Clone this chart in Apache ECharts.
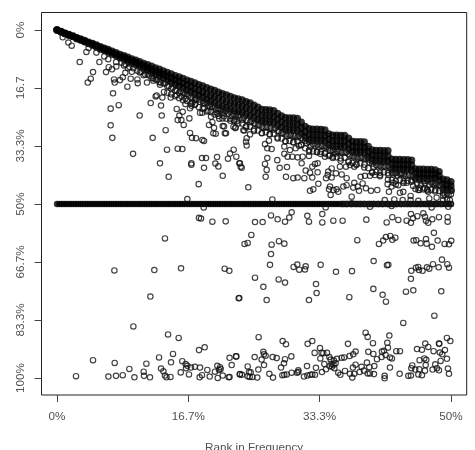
<!DOCTYPE html>
<html>
<head>
<meta charset="utf-8">
<style>html,body{margin:0;padding:0;background:#fff}#chart{width:475px;height:450px}</style>
<script src="https://cdn.jsdelivr.net/npm/echarts@6/dist/echarts.min.js"></script>
</head>
<body>
<div id="chart"></div>
<script>
// Tick positions and their printed labels (both axes run 0-100% of the full range in sixths).
const xTicks = [0, 16.667, 33.333, 50];
const xTickLabels = ['0%', '16.7%', '33.3%', '50%'];
const yTicks = [0, 16.667, 33.333, 50, 66.667, 83.333, 100];
const yTickLabels = ['0%', '16.7', '33.3%', '50%', '66.7%', '83.3%', '100%'];

// The dense ridge, one column per half percent of rank: upper, middle and lower edge.
const ridgeRank = [0,0.5,1,1.5,2,2.5,3,3.5,4,4.5,5,5.5,6,6.5,7,7.5,8,8.5,9,9.5,10,10.5,11,11.5,12,12.5,13,13.5,14,14.5,15,15.5,16,16.5,17,17.5,18,18.5,19,19.5,20,20.5,21,21.5,22,22.5,23,23.5,24,24.5,25,25.5,26,26.5,27,27.5,28,28.5,29,29.5,30,30.5,31,31.5,32,32.5,33,33.5,34,34.5,35,35.5,36,36.5,37,37.5,38,38.5,39,39.5,40,40.5,41,41.5,42,42.5,43,43.5,44,44.5,45,45.5,46,46.5,47,47.5,48,48.5,49,49.5,50];
const ridgeUpper = [0,0.4,0.9,1.3,1.7,2.2,2.6,3,3.5,3.9,4.3,4.8,5.2,5.6,6.1,6.5,7,7.4,7.8,8.3,8.7,9.1,9.6,10,10.4,10.9,11.3,11.8,12.2,12.6,13.1,13.5,13.9,14.4,14.8,15.2,15.7,16.1,16.6,17,17.4,17.9,18.3,18.7,19.1,19.5,19.8,20.1,20.6,21,21.6,22.2,22.8,22.9,23,23.2,24,24.7,25.2,25.3,25.3,25.4,26.5,27.7,28.4,28.5,28.5,28.6,28.7,29.9,30.2,30.2,30.3,30.3,31.1,32,32.1,32.1,32.2,33.5,34.5,34.6,34.6,34.7,34.7,37.1,37.2,37.2,37.3,37.3,37.4,39.9,40,40,40.1,40.1,40.2,40.7,42.9,43.1,43.6];
const ridgeMiddle = [0,0.5,1,1.4,1.8,2.3,2.8,3.2,3.7,4.1,4.6,5.1,5.5,6,6.5,7,7.5,7.9,8.4,8.9,9.3,9.8,10.3,10.8,11.3,11.8,12.3,12.8,13.3,13.8,14.3,14.8,15.3,15.8,16.3,16.8,17.3,17.8,18.3,18.8,19.2,19.7,20.1,20.6,21,21.3,21.6,21.9,22.4,22.8,23.4,24,24.5,24.6,24.7,24.9,25.7,26.4,26.9,27,27,27.1,28.1,29.3,30,30.1,30.1,30.2,30.3,31.5,31.8,31.8,31.9,31.9,32.7,33.5,33.6,33.6,33.7,35,36,36.1,36.1,36.2,36.2,38.5,38.6,38.6,38.7,38.7,38.8,41.2,41.3,41.3,41.4,41.4,41.4,41.9,44.3,44.5,44.8];
const ridgeLower = [0,0.5,1,1.5,1.9,2.5,2.9,3.4,3.9,4.4,4.9,5.5,5.9,6.4,7,7.4,8,8.5,9,9.5,10,10.5,11.1,11.6,12.2,12.8,13.3,13.9,14.4,15,15.6,16.1,16.6,17.3,17.8,18.3,18.9,19.4,20,20.5,21,21.6,22,22.4,22.8,23.2,23.4,23.7,24.2,24.6,25.2,25.8,26.2,26.3,26.4,26.6,27.4,28.1,28.6,28.7,28.7,28.8,29.7,30.9,31.6,31.7,31.7,31.8,31.9,33.1,33.4,33.4,33.5,33.5,34.3,35,35.1,35.1,35.2,36.5,37.5,37.6,37.6,37.7,37.7,39.9,40,40,40.1,40.1,40.2,42.5,42.6,42.6,42.7,42.7,42.6,43.1,45.7,45.9,46];

// Two mottled rows of open circles packed directly under the solid ridge.
const skirtNear = [[8.2,9.4],[8.7,9.9],[9.2,10.6],[9.7,11],[10.2,11.7],[10.7,12],[11.2,12.8],[11.7,13.1],[12.2,13.9],[12.7,14.3],[13.2,15.1],[13.7,15.4],[14.2,16.1],[14.7,16.6],[15.2,17.3],[15.7,17.6],[16.2,18.4],[16.7,18.9],[17.2,19.6],[17.7,19.9],[18.2,20.7],[18.7,21],[19.2,21.8],[19.7,22.1],[20.2,22.8],[20.7,23.2],[21.2,23.8],[21.7,24],[22.2,24.6],[22.7,24.8],[23.2,25.2],[23.7,25.3],[24.2,26],[24.7,26.2],[25.2,27],[25.7,27.4],[26.2,28],[26.7,27.9],[27.2,28.2],[27.7,28.2],[28.2,29.2],[28.7,29.7],[29.2,30.4],[29.7,30.3],[30.2,30.5],[30.7,30.4],[31.2,31.5],[31.7,32.5],[32.2,33.4],[32.7,33.3],[33.2,33.5],[33.7,33.4],[34.2,33.7],[34.7,34.7],[35.2,35.2],[35.7,35],[36.2,35.3],[36.7,35.1],[37.2,36.1],[37.7,36.6],[38.2,36.9],[38.7,36.7],[39.2,37],[39.7,38.1],[40.2,39.3],[40.7,39.2],[41.2,39.4],[41.7,39.3],[42.2,39.5],[42.7,41.5],[43.2,41.8],[43.7,41.6],[44.2,41.9],[44.7,41.7],[45.2,42],[45.7,44.1],[46.2,44.4],[46.7,44.2],[47.2,44.5],[47.7,44.3],[48.2,44.4],[48.7,44.7],[49.2,47.3],[49.7,47.5]];
const skirtFar = [[14,18],[14.5,18.5],[15,19],[15.5,19.6],[16,20.2],[16.5,20.4],[17,21.2],[17.5,21.5],[18,22.2],[18.5,22.6],[19,23.4],[19.5,23.6],[20,24.3],[20.5,24.7],[21,25.4],[21.5,25.5],[22,26.1],[22.5,26.2],[23,26.9],[23.5,26.9],[24,27.7],[24.5,27.8],[25,28.6],[25.5,28.9],[26,29.7],[26.5,29.4],[27,29.9],[27.5,29.8],[28,30.9],[28.5,31.2],[29,32],[29.5,31.9],[30,32.2],[30.5,32],[31,33.1],[31.5,34],[32,35],[32.5,34.9],[33,35.1],[33.5,35],[34,35.4],[34.5,36.2],[35,36.8],[35.5,36.6],[36,36.9],[36.5,36.7],[37,37.7],[37.5,38.2],[38,38.5],[38.5,38.3],[39,38.7],[39.5,39.7],[40,40.9],[40.5,40.8],[41,41],[41.5,40.9],[42,41.1],[42.5,43.1],[43,43.4],[43.5,43.2],[44,43.5],[44.5,43.3],[45,43.6],[45.5,45.7],[46,46],[46.5,45.8],[47,46.1],[47.5,45.9],[48,46],[48.5,46.3],[49,48.9],[49.5,48.6]];

// Ranks sitting on the even 50% line: packed solid at first, looser towards the high ranks.
const evenRankPacked = [0,0.3,0.6,0.9,1.2,1.5,1.8,2.1,2.4,2.7,3,3.3,3.6,3.9,4.2,4.5,4.8,5.1,5.4,5.7,6,6.3,6.6,6.9,7.2,7.5,7.8,8.1,8.4,8.7,9,9.3,9.6,9.9,10.2,10.5,10.8,11.1,11.4,11.7,12,12.3,12.6,12.9,13.2,13.5,13.8,14.1,14.4,14.7,15,15.3,15.6,15.9,16.2,16.5,16.8,17.1,17.4,17.7,18,18.3,18.6,18.9,19.2,19.5,19.8,20.1,20.4,20.7,21,21.3,21.6,21.9,22.2,22.5,22.8,23.1,23.4,23.7,24,24.3,24.6,24.9,25.2,25.5,25.8,26.1,26.4,26.7,27,27.3,27.6,27.9,28.2,28.5,28.8,29.1,29.4,29.7,30,30.3,30.6,30.9,31.2,31.5,31.8,32.1,32.4,32.7,33,33.3,33.6,33.9,34.2,34.5,34.8,35.1,35.4,35.7,36];
const evenRankSpaced = [36.3,36.8,37.4,38,38.5,39,39.7,40.2,40.8,41.3,42,42.6,43.1,43.7,44.4,44.9,45.6,46.2,46.8,47.4,48.1,48.7,49.3,49.8];
const evenRankLoose = [36.2,36.5,36.7,36.9,37.2,37.4,37.7,37.9,38.2,38.4,38.6,38.9,39.1,39.4,39.6,39.9,40.1,40.3,40.6,40.8,41.1,41.3,41.5,41.8,42,42.3,42.5,42.8,43,43.2,43.5,43.7,44,44.2,44.5,44.7,44.9,45.2,45.4,45.7,45.9,46.1,46.4,46.6,46.9,47.1,47.3,47.6,47.8,48.1,48.3,48.6,48.8,49,49.3,49.5,49.8,50];
const evenShare = 50;

// Open circles hugging the underside of the ridge.
const ridgeFringe = [[4,5.2],[5,6.5],[6,7.6],[6.5,8.4],[7.5,9.2],[8.5,10.2],[9,11],[9.5,12],[10.5,12.2],[11,13],[11.5,12.8],[12,13.8],[12.5,14.2],[13,15],[13.5,15.3],[14,16.2],[14.5,16.8],[15,17.4],[15.5,18],[16,18],[16.5,18.4],[17,19.4],[17.5,19.8],[18,20],[18.5,20.4],[19,21],[19.5,21.3],[20,22],[20.5,22.6],[21,23],[21.5,23.2],[22,23.6],[22.5,24.2],[23,24.6],[16.3,19.7],[17.2,20.8],[18.7,22.4],[19.2,23.2],[20.4,24],[21.2,24.8],[22,25.5],[22.8,26.2],[23.5,25.8],[24,26],[24.5,26.5],[25,26.8],[25.5,27.2],[26,27.8],[26.5,28],[27,28.2],[27.5,28.6],[28,29],[28.5,29.6],[29,30],[29.5,30.2],[30,30.4],[30.5,30.8],[31,31],[31.5,31.8],[32,32.2],[32.5,32.8],[33,33],[33.5,33.2],[34,33.4],[34.5,34],[35,34.6],[35.5,34.8],[36,35],[36.5,35.2],[37,35.6],[37.5,36.2],[38,36.6],[38.5,36.8],[39,37],[39.5,37.2],[40,38.4],[40.5,38.8],[41,39],[41.5,39.2],[42,39],[42.5,41],[43,41],[43.5,41.3],[44,41.5],[44.5,41.8],[45,42],[45.5,43],[46,43.2],[46.5,43.5],[47,43.4],[47.5,43.8],[48,44],[48.5,44.6],[49,46.8],[49.5,47],[50,47.2],[45.2,44.8],[46,45.4],[47,45.8],[48,46.4],[49,47.6],[44,44],[43,44.4],[42,43],[41,42],[40,41],[39,39.5],[38,38.8],[37,38],[36,37.6],[35,36.4],[34,35.5],[33,35],[32,34.5],[31,33],[30,32.3],[29,32],[28,31.2],[27,30],[26,29.6],[25,29],[24,28]];

// Scattered circles above the 50% line.
const upperScatter = [[0.72,2.1],[1.44,3.6],[1.86,4.5],[2.88,9.2],[3.73,6.3],[5.38,9.2],[4.57,12.1],[4.28,14],[3.9,15.1],[6.22,12.1],[6.56,10.7],[6.98,11.3],[7.53,10.5],[7.11,18.2],[7.24,14.2],[7.32,15.1],[8,14.4],[8.34,13.6],[8.93,16.3],[8.67,12.3],[9.35,14],[6.81,22.6],[7.83,21.6],[6.81,27.4],[7.02,31],[10.49,24.6],[10.24,15.3],[10.2,14.2],[11.42,15.1],[12.23,14.6],[13.07,15.7],[11.89,21],[12.52,19.1],[12.65,18.8],[13.37,19.4],[13.2,21.7],[13.29,24.6],[12.14,31],[13.79,28.8],[9.65,35.6],[13.07,38.3],[13.96,34.4],[15.32,34.1],[15.91,34.2],[14.17,42.2],[14.43,19.4],[13.58,17.8],[15.19,22.7],[15.32,25.9],[15.53,24.6],[15.78,25.9],[16.08,27.3],[15.95,23.5],[16.8,25.4],[16.88,22.5],[17.09,21.8],[17.52,21.4],[16.29,21.3],[15.82,19.2],[15.19,18.7],[16.88,29.6],[17.13,31],[17.64,31.1],[18.45,31.6],[18.66,31.9],[17.05,38.3],[17.05,38.7],[18.4,36.8],[18.91,36.8],[18.66,39.6],[17.98,44.3],[20.31,36.5],[20.1,38.4],[20.48,39.2],[21.03,41.9],[21.7,37],[21.96,35.5],[22.42,34.4],[22.76,36.4],[23.14,38.3],[23.31,39.3],[18.15,23.8],[18.45,23.8],[19.55,24.9],[19.29,27.3],[19.72,26.5],[19.93,28.1],[19.84,29.7],[20.14,29.8],[20.6,25.5],[21.03,27.6],[21.2,27.7],[21.3,29.7],[21.45,29.7],[22.4,27.8],[22.63,28.2],[20.27,23.8],[20.9,24],[19.42,22],[17.52,20.1],[18.57,21.1],[22.4,25.9],[23,24.4],[16.54,48.6],[24.28,45.2],[23.22,38.3],[23.44,39.6],[22.67,28],[23.65,28.8],[24.49,30],[24.07,31.1],[23.99,32.1],[24.07,33.2],[23.77,28.9],[26.9,31.8],[26.4,32.8],[26.69,34],[27.24,34.2],[26.69,36.8],[26.4,38.5],[26.61,40.2],[26.48,42.2],[28.85,33.5],[29.57,34.5],[30.29,34],[30.71,33.3],[28.85,35.6],[29.27,36.4],[29.87,36.4],[30.54,36.6],[31.18,36.4],[31.98,36.2],[27.96,37.4],[31.05,38.3],[28.26,39.6],[29.19,39.4],[29.06,42.2],[29.99,42.6],[30.54,42.4],[31.39,42.6],[31.56,40.4],[32.11,41],[32.4,39.3],[32.74,38.5],[33.08,38.3],[33.08,40.9],[32.4,42.4],[33.17,44.2],[32.11,46.2],[32.53,45.8],[33.42,35.6],[34,36.4],[34.65,35.9],[35.36,35.5],[34.43,40.7],[34.35,41.7],[34.14,42.6],[34.86,39.8],[34.86,42.4],[35.41,41.2],[36.13,41.5],[36.76,42.6],[35.91,39.3],[36.68,39.3],[37.18,38.8],[37.73,39.3],[34.65,45],[34.52,45.8],[35.07,46],[34.73,47.4],[35.49,45.8],[35.7,46.5],[36.34,45],[36.76,44.6],[37.73,43.9],[37.6,45.3],[38.16,45],[38.33,46.2],[38.79,44.1],[39.21,45.5],[39.85,46.2],[40.65,46],[37.4,47.9],[38.54,42.2],[39.09,41.9],[39.72,41.9],[40.36,41.7],[40.99,41.7],[41.96,44.3],[42.47,45],[42.13,46.5],[43.32,44.6],[43.53,46.8],[43.95,46.5],[44.88,47.7],[45.86,46],[46.7,45.5],[47.12,46.5],[47.97,44.6],[50.09,46.2],[48.18,48.2],[47.25,48.4],[42.05,41.7],[42.89,41.2],[43.74,41.2],[45,43.1],[44.38,43.9],[42.68,43.9],[27.33,48.7],[41.6,48.9],[42.81,48.7],[43.87,48.9],[44.88,48.9],[45.86,49.1],[49.87,48.9],[37.4,49.8]];

// Scattered circles between the 50% line and the bottom cluster.
const middleScatter = [[18.62,51],[18.02,54],[18.28,54.2],[19.72,55.1],[21.41,55],[34.1,51],[50,50],[49.66,50.8],[47.55,51],[42.47,50.6],[39.72,50.8],[25.13,55.2],[26.1,55.2],[27.16,53.3],[28,54.4],[28.94,55.1],[29.48,53.9],[29.78,52.4],[31.77,53.4],[31.98,55.1],[33.67,52.9],[33.67,55.3],[35.07,54.8],[36.25,54.8],[39.26,54.5],[41.84,55.3],[42.56,53.8],[43.32,54.6],[44.37,54.8],[44.92,52.9],[45.18,54.1],[45.73,53.5],[46.49,52.7],[46.7,53.7],[46.83,54.8],[47.63,54.4],[48.48,53.8],[49.58,53.8],[49.58,55.1],[44.92,55.4],[47.12,55.4],[13.7,59.9],[7.28,69.1],[12.35,69],[15.74,68.5],[21.28,68.6],[21.87,69.2],[11.85,76.6],[23.06,77.1],[9.69,85.2],[14.09,87.5],[15.44,88.5],[24.66,58.9],[23.8,61.5],[24.2,61.2],[27.24,61.7],[28.17,60.7],[28.85,61.4],[38.11,60.4],[40.86,61.5],[41.4,60.5],[41.75,59.5],[42.3,59.2],[42.56,60.3],[42.94,59.7],[45.26,60.5],[45.6,60.4],[46.15,61.3],[46.83,60.1],[46.91,61.4],[47.59,62.3],[47.84,58.3],[48.31,60.5],[49.2,61.5],[49.75,61.6],[50.04,60.6],[27.16,64.4],[27.03,67.5],[30.03,68.1],[30.5,67.4],[30.75,68.9],[31.56,67.9],[31.47,68.8],[33.46,67.5],[35.41,69.5],[37.44,69.3],[40.19,66.4],[41.88,67.6],[42.05,67.5],[44.97,69.2],[45.56,68.3],[45.85,68.1],[45.94,69],[46.4,69.2],[46.96,68.2],[47.25,68.6],[47.72,67.3],[48.44,68.2],[48.86,66],[49.54,67.3],[49.75,68.3],[25.13,71.2],[28.13,71.7],[28.94,72.6],[26.19,73.8],[23.14,77],[26.61,77.6],[31.98,77.6],[32.95,75.6],[32.87,73],[37.1,76.8],[40.15,74.4],[41.33,76.1],[41.75,78.1],[44.92,71.5],[44.29,75.2],[45.22,74.8],[48.77,75.1],[47.89,82.1],[43.95,84.2]];

// The cluster of circles near the 100% end.
const lowerScatter = [[2.41,99.5],[4.57,94.9],[6.52,99.6],[7.49,99.4],[8.34,99.2],[7.32,95.7],[9.18,97.4],[9.82,99.8],[11,98.2],[11.04,99.4],[11.34,95.9],[11.8,99.8],[12.95,94.1],[13.2,97.3],[13.5,98.1],[13.7,99.3],[13.9,99.8],[14.4,99.7],[14.47,95.5],[14.72,93.1],[15.7,98.4],[15.9,95.2],[16.33,96],[16.54,96.5],[16.37,97.2],[16.75,99],[17,97],[17.5,96.8],[18.02,92],[18.74,91.2],[18.15,97],[18.4,99.2],[18.1,99.8],[19.08,97.7],[19.38,99.6],[20.05,98.2],[20.35,96.5],[20.69,96.9],[20.77,97.4],[20.56,97.7],[20.4,100],[21.03,99.3],[21.79,99.8],[21.9,99.7],[21.9,94.2],[22.72,93.8],[22.17,96.3],[23.2,99],[25.59,88.3],[28.64,89.4],[29.06,90.3],[31.81,90.2],[32.4,89.4],[36.93,90.2],[39.17,87],[39.43,88.2],[40.1,90],[42.18,87.8],[41.92,89.9],[49.49,88.5],[49.92,89.4],[48.48,90.1],[46.74,90.1],[47.12,91.1],[45.69,91.7],[46.32,91.9],[47.8,92.3],[48.52,90.2],[49.24,92],[48.6,92.7],[48.9,93.2],[49.49,94.5],[48.69,95.1],[48.01,96.1],[49.62,97.3],[49.75,98.8],[48.22,97.2],[47.67,97.6],[48.48,97.8],[46.62,94.4],[46.87,94.8],[46.02,94.9],[46.79,96.3],[46.7,97.9],[45.98,97.5],[45.09,96.4],[44.97,97.2],[45.47,97.6],[45.86,99],[46.32,99.2],[44.92,99.3],[44.59,99.4],[43.49,98.8],[41.58,99.4],[41.58,100.1],[42.26,97],[40.23,98.9],[40.27,96.6],[39.34,95.6],[39.64,96.9],[38.96,97.9],[39.43,98.7],[39.72,98.7],[38.41,98.3],[38.66,96.8],[37.9,96.2],[37.56,97],[37.73,98.8],[37.48,99.9],[37.18,98.8],[36.55,98],[35.96,99.1],[35.7,98.5],[35.2,97.2],[34.9,96.8],[35.36,95.8],[35.15,95],[35.53,94.5],[36.13,94.2],[36.46,94.1],[37.14,93.7],[37.6,93.2],[37.9,92.4],[39.51,92.5],[40.15,93.1],[40.61,94.6],[41.2,94],[41.24,92.4],[41.5,92.2],[41.71,93.4],[42,91.3],[42.26,94.1],[42.51,94.4],[43.06,92.3],[43.53,92.3],[33.38,91.4],[32.7,92.8],[33.59,92.8],[33.8,92.9],[34.27,92.8],[33.42,94.4],[34.56,94],[34.73,94.7],[33.93,96],[34.14,97.5],[33.63,98.3],[32.87,97.1],[31.73,96.6],[32.74,99.1],[32.4,99],[32.15,99.1],[31.77,99.3],[31.35,99.6],[30.63,97.8],[30.63,98.3],[30.46,98.5],[29.78,98.5],[29.15,99],[28.6,99.2],[28.85,99.1],[28.43,97],[28.81,95.8],[28.94,94.6],[29.74,93.8],[27.88,94.3],[27.37,94],[26.48,93.6],[26.19,92.5],[26.27,93.2],[25.97,94.7],[26.27,96.3],[25.55,97.6],[25.09,94],[22.76,93.8],[24.2,96.7],[24.37,98.3],[24.58,98.4],[23.22,98.9],[23.48,99.1],[24.2,99.5],[24.45,99.7],[24.79,99.7],[25.42,99.9],[26.95,98.8],[27.41,99.9],[35.1,96.2],[34.85,96],[34.6,96.6]];

const inkColor = '#111';
const labelColor = '#505050';
const labelFont = 'Liberation Sans';

// Paired [rank, share] points for the ridge and the even line.
const ridgePoints = [ridgeUpper, ridgeMiddle, ridgeLower]
  .flatMap(edge => edge.map((share, i) => [ridgeRank[i], share]));
const evenPacked = evenRankPacked.concat(evenRankSpaced).map(rank => [rank, evenShare]);
const evenLoose = evenRankLoose.map(rank => [rank, evenShare]);

const openCircles = data => ({
  type: 'scatter', data, symbol: 'circle', symbolSize: 5.4, silent: true,
  itemStyle: { color: 'rgba(0,0,0,0)', borderColor: inkColor, borderWidth: 1.15 }
});
const solidCircles = (data, size) => ({
  type: 'scatter', data, symbol: 'circle', symbolSize: size, silent: true,
  itemStyle: { color: '#000', borderWidth: 0 }
});

const chart = echarts.init(document.getElementById('chart'), null, { renderer: 'canvas' });
chart.setOption({
  animation: false,
  backgroundColor: '#fff',
  grid: { left: 41.5, top: 12.5, width: 425.2, height: 382.5, outerBoundsMode: 'none', show: true, borderColor: '#222', borderWidth: 1, backgroundColor: 'transparent' },
  xAxis: {
    type: 'value', min: -1.97, max: 52, position: 'bottom',
    name: 'Rank in Frequency', nameLocation: 'middle', nameGap: 47,
    nameTextStyle: { fontFamily: labelFont, fontSize: 11.7, color: labelColor },
    splitLine: { show: false },
    axisLine: { show: false, onZero: false },
    axisTick: { show: true, length: 7, customValues: xTicks, lineStyle: { color: '#444', width: 1 } },
    axisLabel: {
      show: true, margin: 16, fontFamily: labelFont, fontSize: 11.7, color: labelColor,
      customValues: xTicks,
      formatter: value => xTickLabels[xTicks.indexOf(value)]
    }
  },
  yAxis: {
    type: 'value', inverse: true, min: -5.03, max: 104.9, position: 'left',
    splitLine: { show: false },
    axisLine: { show: false, onZero: false },
    axisTick: { show: true, length: 7, customValues: yTicks, lineStyle: { color: '#444', width: 1 } },
    axisLabel: {
      show: true, rotate: 90, margin: 15, fontFamily: labelFont, fontSize: 11.7, color: labelColor,
      customValues: yTicks,
      formatter: value => yTickLabels[yTicks.indexOf(value)]
    }
  },
  series: [
    solidCircles(ridgePoints, 7.4),
    solidCircles(evenPacked, 6.4),
    openCircles(evenLoose),
    openCircles(skirtNear),
    openCircles(skirtFar),
    openCircles(ridgeFringe),
    openCircles(upperScatter),
    openCircles(middleScatter),
    openCircles(lowerScatter)
  ]
});
</script>
</body>
</html>
